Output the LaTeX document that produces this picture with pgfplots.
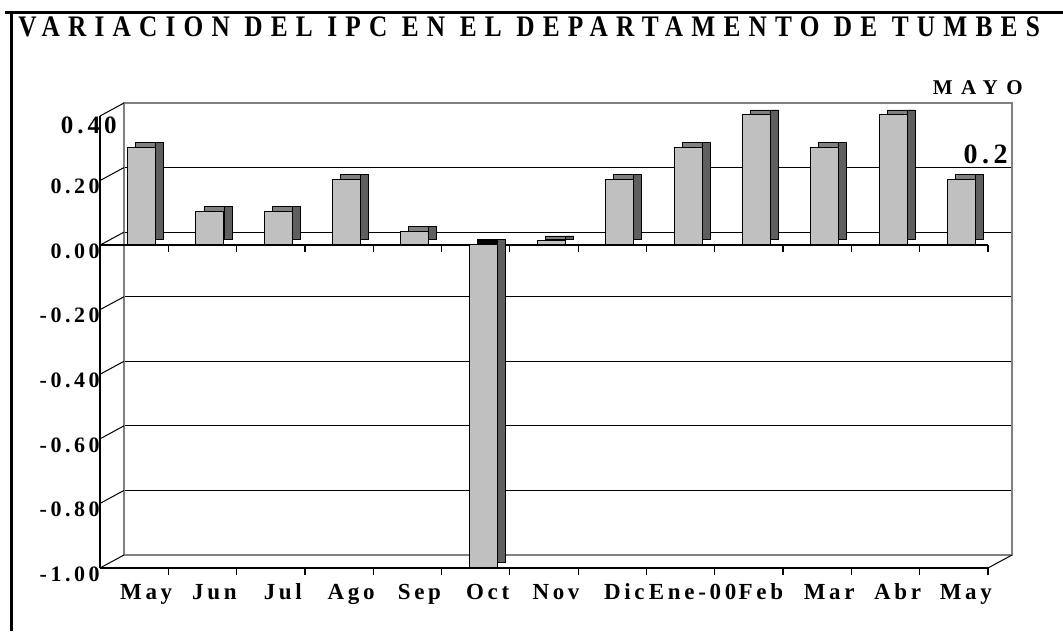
\documentclass[border=0pt]{standalone}
\usepackage{pgfplots}
\pgfplotsset{compat=1.18}
\usepackage{pgfplotstable}
\usepackage{fontspec}
\setmainfont{Liberation Serif}
\newfontfamily\ttlfont[LetterSpace=27.5,FakeStretch=0.85]{Liberation Serif}
\newfontfamily\xtfont[LetterSpace=16]{Liberation Serif}
\newfontfamily\ytfont[LetterSpace=16]{Liberation Serif}
\newfontfamily\mayofont[LetterSpace=40]{Liberation Serif}

\definecolor{barfront}{HTML}{C0C0C0}
\definecolor{bartop}{HTML}{808080}
\definecolor{barside}{HTML}{5F5F5F}

% variacion mensual del IPC, Tumbes
\pgfplotstableread{
x y
0 0.3
1 0.1
2 0.1
3 0.2
4 0.04
5 -1.0
6 0.01
7 0.2
8 0.3
9 0.4
10 0.3
11 0.4
12 0.2
}\ipc

\begin{document}
\begin{tikzpicture}
\path[use as bounding box] (0,0) rectangle (531.5pt,315.5pt);
% marco
\draw[line width=1.5pt] (2.5pt,309.25pt) -- (531.5pt,309.25pt);
\draw[line width=1.5pt] (5.5pt,310pt) -- (5.5pt,0pt);

% pared del fondo
\begin{axis}[at={(62pt,38pt)}, anchor=south west, scale only axis,
  width=444pt, height=226pt,
  xmin=-0.5, xmax=12.5, ymin=-1, ymax=0.4,
  xtick=\empty, ytick={-1,-0.8,-0.6,-0.4,-0.2,0,0.2}, yticklabels={},
  major tick length=0pt,
  ymajorgrids, grid style={black, line width=0.5pt},
  axis line style={draw=gray, line width=0.6pt}]
\end{axis}

% plano frontal con barras
\begin{axis}[at={(50pt,31.5pt)}, anchor=south west, scale only axis,
  width=444pt, height=226pt, clip=false,
  xmin=-0.5, xmax=12.5, ymin=-1, ymax=0.4,
  axis x line*=bottom, axis y line*=left,
  axis line style={-, line width=0.8pt},
  tick align=outside, major tick length=0pt, minor tick length=3.5pt,
  xtick={0,...,12},
  xticklabels={May,Jun,Jul,Ago,Sep,Oct,Nov,Dic,Ene-00,Feb,Mar,Abr,May},
  minor xtick={0.5,1.5,...,12.5},
  minor x tick style={black, line width=0.6pt},
  xticklabel style={font=\xtfont\bfseries\fontsize{11.5}{13}\selectfont, anchor=base, inner sep=0pt, xshift=6pt, yshift=-15.5pt},
  ytick={-1,-0.8,-0.6,-0.4,-0.2,0,0.2},
  yticklabels={-1.00,-0.80,-0.60,-0.40,-0.20,0.00,0.20},
  yticklabel style={font=\ytfont\bfseries\fontsize{11}{12}\selectfont, anchor=east, inner sep=0pt, yshift=-3pt},
  ]
\pgfplotsinvokeforeach{-1,-0.8,-0.6,-0.4,-0.2,0,0.2,0.4}{
  \draw[line width=0.5pt] (axis cs:-0.5,#1) -- ++(12pt,6.5pt);
}
\draw[line width=0.5pt] (axis cs:12.5,-1) -- ++(12pt,6.5pt);
\draw[line width=0.8pt] (axis cs:-0.5,0) -- (axis cs:12.5,0);
\pgfplotsinvokeforeach{0.5,1.5,2.5,3.5,4.5,5.5,6.5,7.5,8.5,9.5,10.5,11.5,12.5}{
  \draw[line width=0.6pt] (axis cs:#1,0) -- ++(0pt,-3.5pt);
}
% caras superior y lateral
\addplot[ybar, bar width=14pt, bar shift=7.75pt, yshift=3pt, fill=bartop, draw=black, line width=0.4pt] table {\ipc};
\addplot[ybar, bar width=14pt, bar shift=7.75pt, yshift=3pt, fill=black, draw=black, line width=0.4pt, restrict x to domain=5:5] table {\ipc};
\addplot[ybar, bar width=4pt, bar shift=12.75pt, yshift=3pt, fill=barside, draw=black, line width=0.4pt] table {\ipc};
% cara frontal
\addplot[ybar, bar width=14pt, bar shift=3.75pt, yshift=0.5pt, fill=barfront, draw=black, line width=0.5pt] table {\ipc};
\end{axis}

\node[anchor=base west, inner sep=0pt] at (9pt,297pt)
  {\ttlfont\bfseries\fontsize{14.9}{16}\selectfont VARIACION DEL IPC EN EL DEPARTAMENTO DE TUMBES};
\node[anchor=east, inner sep=0pt] at (58.5pt,253pt)
  {\ytfont\bfseries\fontsize{12.5}{14}\selectfont 0.40};
\node[anchor=east, inner sep=0pt] at (504pt,238.5pt)
  {\ytfont\bfseries\fontsize{14}{16}\selectfont 0.2};
\node[anchor=east, inner sep=0pt] at (511.5pt,271.5pt)
  {\mayofont\bfseries\fontsize{10.5}{12}\selectfont MAYO};
\end{tikzpicture}
\end{document}
